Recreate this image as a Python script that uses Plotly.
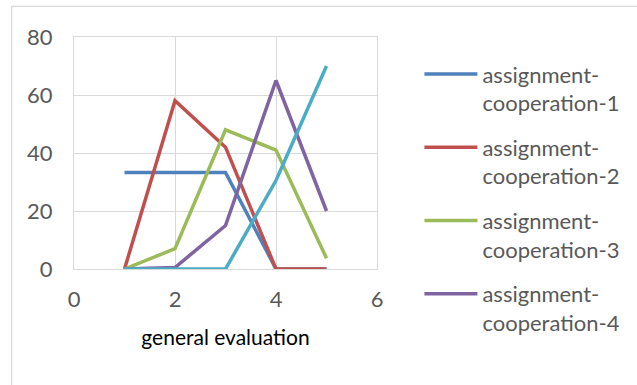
import plotly.graph_objects as go

# General evaluation scores (x) and share of responses per assignment-cooperation item
x_vals = [1, 2, 3, 4, 5]
coop_1 = [33.3, 33.3, 33.3, 0, 0]
coop_2 = [0, 58.0, 42.0, 0, 0]
coop_3 = [0, 7.0, 48.0, 41.0, 3.7]
coop_4 = [0, 0.5, 15.0, 65.0, 20.0]
coop_5 = [0, 0, 0, 30.5, 70.0]

series_names = [
    "assignment-<br>cooperation-1",
    "assignment-<br>cooperation-2",
    "assignment-<br>cooperation-3",
    "assignment-<br>cooperation-4",
    "assignment-<br>cooperation-5",
]
series_values = [coop_1, coop_2, coop_3, coop_4, coop_5]
series_colors = ["#4F81BD", "#C0504D", "#9BBB59", "#8064A2", "#4BACC6"]
in_legend = [True, True, True, True, False]

x_ticks = [0, 2, 4, 6]
y_ticks = [0, 20, 40, 60, 80]

FONT = "Lato, Open Sans, sans-serif"

fig = go.Figure()
for i, (name, vals, color, show) in enumerate(zip(series_names, series_values, series_colors, in_legend)):
    fig.add_trace(go.Scatter(
        x=x_vals, y=vals, mode="lines", name=name,
        line=dict(color=color, width=3.5),
        showlegend=show, legendgroup=f"g{i}",
    ))

fig.update_layout(
    width=637, height=385,
    margin=dict(l=74, r=257, t=37, b=116),
    paper_bgcolor="white", plot_bgcolor="white",
    font=dict(family=FONT, size=22, color="#595959"),
    legend=dict(
        x=1.14, y=0.93, xanchor="left", yanchor="top",
        font=dict(family=FONT, size=22, color="#595959"),
        valign="top", tracegroupgap=13, itemwidth=53,
        maxheight=380,
        bgcolor="rgba(0,0,0,0)",
    ),
    shapes=[dict(
        type="rect", xref="paper", yref="paper",
        x0=-0.206, x1=2.0, y0=-1.0, y1=1.132,
        line=dict(color="#D9D9D9", width=1.3), fillcolor="rgba(0,0,0,0)",
        layer="below",
    )],
)

fig.update_xaxes(
    range=[0, 6], tickvals=x_ticks, showgrid=True, gridcolor="#D9D9D9", gridwidth=1,
    zeroline=False, showline=True, linecolor="#D9D9D9", mirror=True,
    ticks="", ticklabelstandoff=11,
    tickfont=dict(size=22, color="#595959"),
    title=dict(text="general evaluation", font=dict(size=21, color="#000000"), standoff=18),
)
fig.update_yaxes(
    range=[0, 80], tickvals=y_ticks, showgrid=True, gridcolor="#D9D9D9", gridwidth=1,
    zeroline=False, showline=True, linecolor="#D9D9D9", mirror=True,
    ticks="", ticklabelstandoff=16,
    tickfont=dict(size=22, color="#595959"),
)

fig.write_html("out.html")
